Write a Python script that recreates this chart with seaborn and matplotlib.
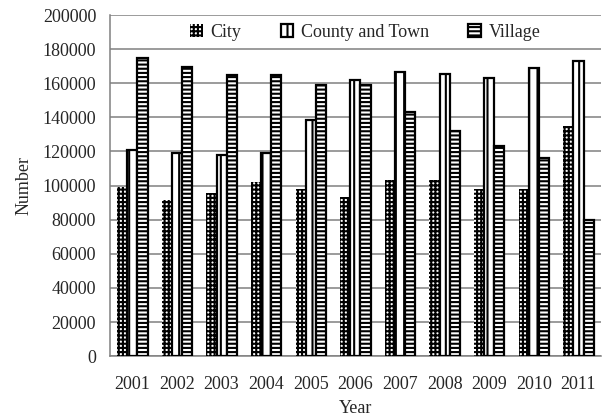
import pandas as pd
import matplotlib
matplotlib.use('Agg')
import matplotlib.pyplot as plt
import seaborn as sns

# values
years = ['2001', '2002', '2003', '2004', '2005', '2006', '2007', '2008', '2009', '2010', '2011']
city = [98900, 91500, 95400, 102200, 97800, 93100, 103000, 103000, 98000, 98000, 134900]
county_town = [120800, 119300, 117900, 119300, 138400, 161900, 166300, 165400, 162900, 168700, 173000]
village = [175000, 169700, 164800, 164800, 159000, 159000, 143300, 132000, 123300, 115900, 80000]
series_names = ['City', 'County and Town', 'Village']
y_ticks = [0, 20000, 40000, 60000, 80000, 100000, 120000, 140000, 160000, 180000, 200000]

rows = []
for name, vals in zip(series_names, [city, county_town, village]):
    for yr, v in zip(years, vals):
        rows.append({'Year': yr, 'Series': name, 'Number': v})
df = pd.DataFrame(rows)

sns.set_style('white')
plt.rcParams['font.family'] = ['Liberation Serif', 'DejaVu Serif']
plt.rcParams['hatch.linewidth'] = 1.5
plt.rcParams['hatch.color'] = 'black'

fig = plt.figure(figsize=(6.05, 4.17), dpi=100)
ax = fig.add_axes([0.182, 0.146, 0.811, 0.818])

sns.barplot(data=df, x='Year', y='Number', hue='Series', hue_order=series_names,
            palette=['white'] * 3, width=0.68, gap=0.0, edgecolor='black',
            linewidth=1.6, legend=False, ax=ax, zorder=3)

hatches = ['++++', '||', '----']
for cont, h in zip(ax.containers, hatches):
    for p in cont.patches:
        p.set_hatch(h)
        if h == '++++':
            p.set_linewidth(0)

ax.set_ylim(0, 200000)
ax.set_yticks(y_ticks)
ax.set_yticklabels([str(t) for t in y_ticks])
ax.set_xlim(-0.5, len(years) - 0.5)
ax.yaxis.grid(True, color='#808080', linewidth=1.1, zorder=0)
ax.set_axisbelow(True)

for s in ['top', 'right']:
    ax.spines[s].set_visible(False)
for s in ['left', 'bottom']:
    ax.spines[s].set_color('#808080')
    ax.spines[s].set_linewidth(1.1)

ax.tick_params(axis='x', which='major', length=0, labelsize=13, pad=14)
ax.set_xticks([i - 0.5 for i in range(len(years) + 1)], minor=True)
ax.tick_params(axis='x', which='minor', length=4, color='#808080', direction='out')
ax.tick_params(axis='y', length=4, color='#808080', direction='out', labelsize=13, pad=6)

ax.set_xlabel('Year', fontsize=13, labelpad=5)
ax.set_ylabel('Number', fontsize=13, labelpad=7)

handles = [c.patches[0] for c in ax.containers]
ax.legend(handles, series_names, loc='center', bbox_to_anchor=(0.52, 0.95), ncol=3,
          frameon=False, fontsize=13, handlelength=0.7, handleheight=0.7,
          columnspacing=2.2, handletextpad=0.4)

fig.savefig('out.png', dpi=100)
